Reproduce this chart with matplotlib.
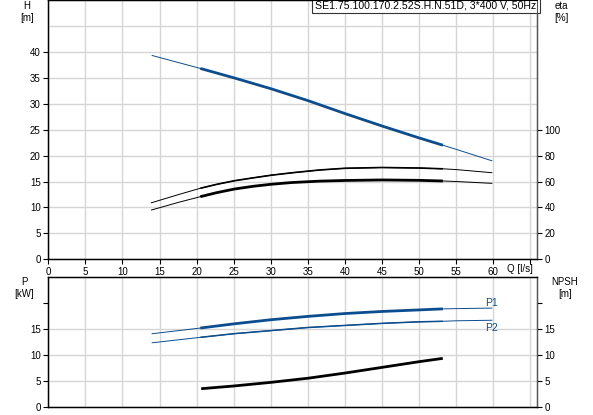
import numpy as np
import matplotlib
matplotlib.use('Agg')
import matplotlib.pyplot as plt

plt.rcParams['font.family'] = ['Liberation Sans', 'DejaVu Sans']
plt.rcParams['font.size'] = 7

# pump data
title = 'SE1.75.100.170.2.52S.H.N.51D, 3*400 V, 50Hz'
q_op = (20.5, 53.2)  # duty range (drawn thick)

q_h = [14, 20.5, 25, 30, 35, 40, 45, 50, 53.2, 55, 59.8]
head = [39.3, 36.8, 35.0, 32.9, 30.6, 28.1, 25.7, 23.4, 22.0, 21.2, 19.0]

q_eta1 = [13.9, 17.6, 20.5, 22.7, 25.1, 27.6, 30.1, 32.8, 36.6, 40, 45, 50, 53.2, 55, 59.8]
eta1 = [43.6, 50.0, 54.8, 57.8, 60.6, 62.8, 64.9, 66.7, 68.9, 70.2, 70.8, 70.4, 69.8, 69.2, 66.8]
q_eta2 = [13.9, 17.6, 20.5, 22.7, 25.1, 27.6, 30.1, 32.8, 36.6, 40, 45, 50, 53.2, 55, 59.8]
eta2 = [38.0, 44.0, 48.3, 51.4, 54.2, 56.3, 57.9, 59.2, 60.3, 60.8, 61.2, 60.9, 60.4, 60.0, 58.6]

q_p = [14, 20.5, 25, 30, 35, 40, 45, 50, 53.2, 55, 59.8]
p1 = [14.1, 15.2, 16.0, 16.8, 17.45, 18.0, 18.4, 18.7, 18.9, 18.95, 19.05]
p2 = [12.35, 13.4, 14.1, 14.7, 15.3, 15.7, 16.1, 16.4, 16.5, 16.6, 16.7]

q_npsh = [20.8, 25, 30, 35, 40, 45, 50, 53.0]
npsh = [3.5, 4.0, 4.7, 5.5, 6.5, 7.6, 8.7, 9.3]

BLUE = '#0b4d8e'
GRID = '#d6d6d6'
W, H = 593, 415


def draw_curve(ax, q, y, color, thin=0.7, thick=2.0):
    q = np.asarray(q)
    y = np.asarray(y)
    ax.plot(q, y, color=color, lw=thin)
    m = (q >= q_op[0]) & (q <= q_op[1])
    ax.plot(q[m], y[m], color=color, lw=thick, solid_capstyle='butt')


def setup(ax):
    ax.set_xlim(0, 65.85)
    ax.set_xticks(np.arange(0, 70, 5))
    ax.grid(True, which='both', color=GRID, lw=1)
    ax.set_axisbelow(True)
    ax.tick_params(direction='out', length=3.5, width=0.8, pad=2)
    for s in ax.spines.values():
        s.set_linewidth(1.0)
    ax.spines['right'].set_color('#555555')


fig = plt.figure(figsize=(W / 100, H / 100), dpi=100)
ax_h = fig.add_axes([48.3 / W, 1 - 259.3 / H, 488.4 / W, 259.3 / H])
ax_p = fig.add_axes([48.3 / W, 1 - 406.7 / H, 488.4 / W, 129.4 / H])

# --- head / efficiency
setup(ax_h)
ax_h.set_ylim(0, 50)
ax_h.set_yticks(np.arange(0, 45, 5))
ax_h.set_yticks([45], minor=True)
ax_h.tick_params(which='minor', length=0)
ax_h.set_xticklabels([str(v) for v in range(0, 65, 5)] + [''])
draw_curve(ax_h, q_h, head, BLUE)

ax_eta = ax_h.twinx()
ax_eta.set_ylim(0, 200)
ax_eta.set_yticks(np.arange(0, 120, 20))
ax_eta.tick_params(direction='out', length=3.5, width=0.8, pad=2)
ax_eta.spines['right'].set_color('#555555')
draw_curve(ax_eta, q_eta1, eta1, 'black', thin=0.7, thick=1.2)
draw_curve(ax_eta, q_eta2, eta2, 'black')

ax_h.text(0.9995, 0.999, title, transform=ax_h.transAxes, ha='right', va='top',
          fontsize=7.6, zorder=10,
          bbox=dict(boxstyle='square,pad=0.3', fc='white', ec='#333333', lw=0.8))

# --- power / npsh
setup(ax_p)
ax_p.set_ylim(0, 25)
ax_p.set_yticks(np.arange(0, 25, 5))
ax_p.set_yticklabels(['0', '5', '10', '15', ''])
ax_p.get_ygridlines()[4].set_visible(False)
ax_p.tick_params(axis='x', length=0, labelbottom=False)
draw_curve(ax_p, q_p, p1, BLUE)
draw_curve(ax_p, q_p, p2, BLUE, thin=0.7, thick=1.1)
ax_p.text(q_p[-1], 20.1, 'P1', color=BLUE, ha='center', va='center', fontsize=7.5)
ax_p.text(q_p[-1], 15.3, 'P2', color=BLUE, ha='center', va='center', fontsize=7.5)

ax_n = ax_p.twinx()
ax_n.set_ylim(0, 25)
ax_n.set_yticks(np.arange(0, 25, 5))
ax_n.set_yticklabels(['0', '5', '10', '15', ''])
ax_n.tick_params(direction='out', length=3.5, width=0.8, pad=2)
ax_n.spines['right'].set_color('#555555')
ax_n.plot(q_npsh, npsh, color='black', lw=2.0)

# axis captions
fig.text(26.7 / W, 1 - 6 / H, 'H', ha='center', va='center')
fig.text(26.7 / W, 1 - 18 / H, '[m]', ha='center', va='center')
fig.text(561 / W, 1 - 6 / H, 'eta', ha='center', va='center')
fig.text(561 / W, 1 - 18 / H, '[%]', ha='center', va='center')
fig.text(24 / W, 1 - 282 / H, 'P', ha='center', va='center')
fig.text(24 / W, 1 - 294 / H, '[kW]', ha='center', va='center')
fig.text(565 / W, 1 - 282 / H, 'NPSH', ha='center', va='center')
fig.text(565 / W, 1 - 294 / H, '[m]', ha='center', va='center')
fig.text(506.7 / W, 1 - 269 / H, 'Q [l/s]', ha='left', va='center')

fig.savefig('out.png', dpi=100)
